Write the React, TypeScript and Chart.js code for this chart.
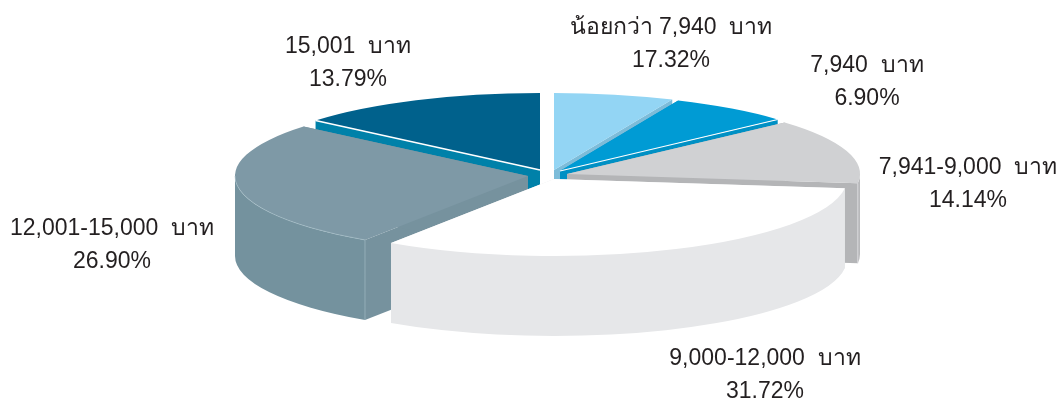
import React, { useEffect, useRef } from "react";
import { Chart, registerables } from "chart.js";

Chart.register(...registerables);

const categories = [
  "น้อยกว่า 7,940  บาท",
  "7,940  บาท",
  "7,941-9,000  บาท",
  "9,000-12,000  บาท",
  "12,001-15,000  บาท",
  "15,001  บาท",
];
const percentLabels = ["17.32%", "6.90%", "14.14%", "31.72%", "26.90%", "13.79%"];
const sliceShares = [6.61, 6.72, 13.61, 32.45, 26.72, 13.89];

const topColors = ["#93d5f4", "#009bd4", "#d0d1d3", "#ffffff", "#7e99a6", "#00618c"];
const cutColors = ["#7dbcd9", "#0090c4", "#b4b5b7", "#e6e7e9", "#76929e", "#0081a9"];
const wallColors = ["#7dbcd9", "#0090c4", "#b8b9bb", "#e6e7e9", "#74929e", "#0081a9"];

const PIE_RX = 293;
const PIE_RY = 77;
const DEPTH = 80;
const explode: [number, number][] = [
  [6, -5],
  [12, -4],
  [19, -1],
  [6, 4],
  [-20, 1],
  [-8, -5],
];
const drawOrder = [5, 0, 1, 2, 4, 3];
const labelAnchors: [number, number][] = [
  [671, 28],
  [867, 66],
  [968, 168],
  [765, 359],
  [112, 229],
  [348, 47],
];
const LINE_GAP = 33;

const pie3d = {
  id: "pie3d",
  beforeDatasetDraw(chart: any) {
    const ctx: CanvasRenderingContext2D = chart.ctx;
    const els = chart.getDatasetMeta(0).data;
    for (const i of drawOrder) {
      const el = els[i];
      const { x, y, startAngle, endAngle, outerRadius } = el.getProps(
        ["x", "y", "startAngle", "endAngle", "outerRadius"],
        true
      );
      const cx = x + explode[i][0];
      const cy = y + explode[i][1];
      const px = (a: number) => cx + Math.cos(a) * PIE_RX;
      const py = (a: number) => cy + Math.sin(a) * PIE_RY;

      // cut faces
      ctx.fillStyle = cutColors[i];
      for (const a of [startAngle, endAngle]) {
        ctx.beginPath();
        ctx.moveTo(cx, cy);
        ctx.lineTo(px(a), py(a));
        ctx.lineTo(px(a), py(a) + DEPTH);
        ctx.lineTo(cx, cy + DEPTH);
        ctx.closePath();
        ctx.fill();
      }

      // outer wall, only the part of the rim that faces the viewer
      const two = Math.PI * 2;
      for (let k = -1; k <= 1; k++) {
        const a = Math.max(startAngle, k * two);
        const b = Math.min(endAngle, k * two + Math.PI);
        if (b > a) {
          ctx.fillStyle = wallColors[i];
          ctx.beginPath();
          ctx.ellipse(cx, cy, PIE_RX, PIE_RY, 0, a, b);
          ctx.ellipse(cx, cy + DEPTH, PIE_RX, PIE_RY, 0, b, a, true);
          ctx.closePath();
          ctx.fill();
        }
      }

      // top face: the library's own arc, flattened
      ctx.save();
      ctx.translate(cx, cy);
      ctx.scale(PIE_RX / outerRadius, PIE_RY / outerRadius);
      ctx.translate(-x, -y);
      el.draw(ctx);
      ctx.restore();

      // highlights
      if (i === 5 || i === 1) {
        const a = i === 5 ? startAngle : endAngle;
        ctx.strokeStyle = "#ffffff";
        ctx.lineWidth = i === 5 ? 1.5 : 1.1;
        ctx.beginPath();
        ctx.moveTo(cx, cy);
        ctx.lineTo(px(a), py(a));
        ctx.stroke();
      }
      if (i === 4) {
        ctx.strokeStyle = "rgba(170,195,205,0.7)";
        ctx.lineWidth = 0.8;
        ctx.beginPath();
        ctx.moveTo(px(startAngle), py(startAngle));
        ctx.lineTo(px(startAngle), py(startAngle) + DEPTH);
        ctx.stroke();
        ctx.beginPath();
        ctx.ellipse(cx, cy, PIE_RX, PIE_RY, 0, startAngle, Math.PI);
        ctx.stroke();
      }
      if (i === 2) {
        ctx.strokeStyle = "rgba(225,225,228,0.9)";
        ctx.lineWidth = 0.8;
        ctx.beginPath();
        ctx.moveTo(px(endAngle), py(endAngle));
        ctx.lineTo(px(endAngle), py(endAngle) + DEPTH);
        ctx.stroke();
      }
    }
    return false;
  },
  afterDraw(chart: any) {
    const ctx: CanvasRenderingContext2D = chart.ctx;
    ctx.save();
    ctx.fillStyle = "#231f20";
    ctx.font = "23px 'Liberation Sans', 'Noto Sans', sans-serif";
    ctx.textAlign = "center";
    ctx.textBaseline = "middle";
    categories.forEach((c, i) => {
      const [lx, ly] = labelAnchors[i];
      ctx.fillText(c, lx, ly);
      ctx.fillText(percentLabels[i], lx, ly + LINE_GAP);
    });
    ctx.restore();
  },
};

export default function App() {
  const ref = useRef<HTMLCanvasElement>(null);
  useEffect(() => {
    document.body.style.margin = "0";
    const chart = new Chart(ref.current as HTMLCanvasElement, {
      type: "pie",
      data: {
        labels: categories,
        datasets: [{ data: sliceShares, backgroundColor: topColors, borderWidth: 0 }],
      },
      options: {
        animation: false,
        responsive: false,
        layout: { padding: { left: 34, bottom: 51 } },
        plugins: { legend: { display: false }, tooltip: { enabled: false } },
      },
      plugins: [pie3d],
    } as any);
    return () => chart.destroy();
  }, []);
  return <canvas ref={ref} width={1062} height={401} style={{ display: "block", width: 1062, height: 401 }} />;
}
